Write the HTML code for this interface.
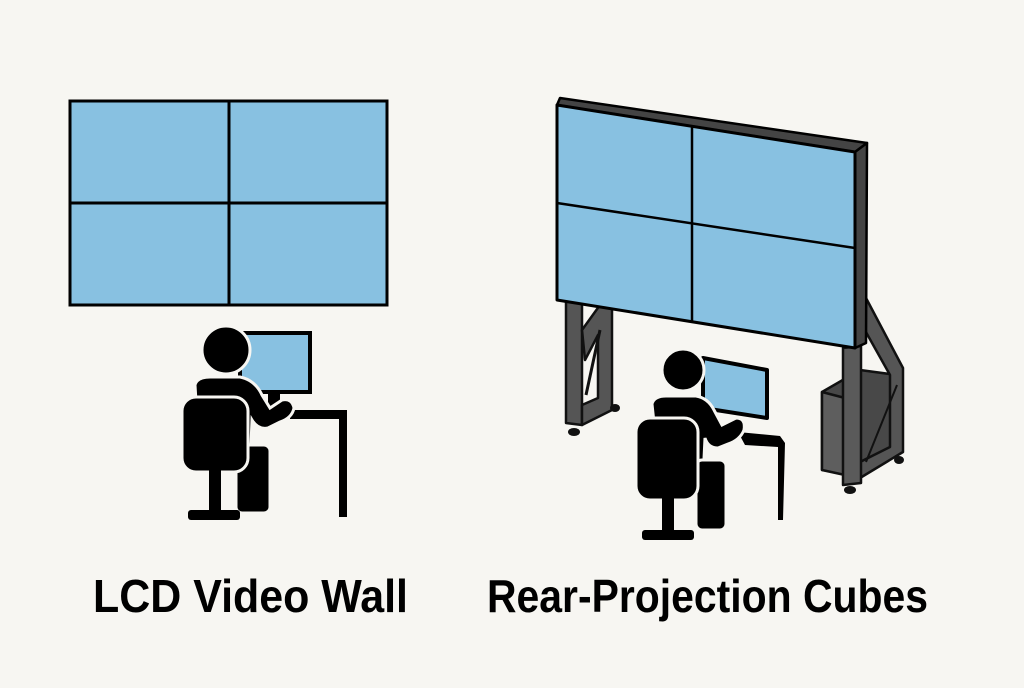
<!DOCTYPE html>
<html><head><style>html,body{margin:0;padding:0;background:#f7f6f2}</style></head>
<body>
<svg width="1024" height="683" viewBox="0 0 1024 683" xmlns="http://www.w3.org/2000/svg">
<rect width="1024" height="683" fill="#f7f6f2"/>
<!-- LEFT LCD wall -->
<rect x="70" y="101" width="317" height="204" fill="#88c1e1" stroke="#000" stroke-width="3"/>
<line x1="229" y1="101" x2="229" y2="305" stroke="#000" stroke-width="3"/>
<line x1="70" y1="203" x2="387" y2="203" stroke="#000" stroke-width="3"/>
<!-- left person -->
<g stroke="#f7f6f2" stroke-width="3">
<rect x="240" y="333" width="70" height="59" fill="#88c1e1" stroke="#000" stroke-width="4"/>
<rect x="268" y="392" width="12" height="14" fill="#000" stroke="none"/>
<path d="M290 410 H347 V517 H339 V419 H290 Z" fill="#000" stroke="none"/>
<circle cx="226" cy="350" r="24" fill="#000"/>
<path d="M195 385 Q197 377 210 377 H240 Q255 380 262 395 L270 408 L282 400 Q292 398 294 408 Q292 418 280 422 L268 428 Q258 430 252 420 L250 470 H200 Z" fill="#000"/>
<rect x="236" y="445" width="34" height="68" rx="6" fill="#000"/>
<rect x="182" y="397" width="66" height="75" rx="14" fill="#000"/>
<rect x="209" y="470" width="12" height="42" fill="#000" stroke="none"/>
<rect x="188" y="510" width="52" height="10" rx="3" fill="#000" stroke="none"/>
</g>
<!-- RIGHT rear projection -->
<!-- right legs and braces -->
<g fill="#555" stroke="#111" stroke-width="2.5" stroke-linejoin="round">
<path d="M566 298 L582 300 L582 425 L566 423 Z"/>
<path d="M582 330 L600 305 L612 308 L612 410 L582 425 L582 405 L598 398 L598 335 L585 360 Z"/>
<path d="M586 395 L600 330" fill="none" stroke-width="3"/>
<path d="M822 392 L860 370 L897 375 L897 450 L860 475 L822 470 Z" fill="#484848"/>
<path d="M822 392 L845 398 L845 475 L822 470 Z" fill="#5e5e5e"/>
<path d="M866 298 L903 368 L903 452 L860 478 L860 462 L890 447 L890 375 L862 325 Z"/>
<path d="M866 462 L897 385" fill="none" stroke-width="2"/>
<path d="M843 348 L861 346 L861 483 L843 485 Z" fill="#5a5a5a"/>
</g>
<g fill="#111">
<ellipse cx="574" cy="432" rx="6" ry="4"/><ellipse cx="615" cy="408" rx="5" ry="4"/>
<ellipse cx="850" cy="490" rx="6" ry="4"/><ellipse cx="899" cy="460" rx="5" ry="4"/>
</g>
<!-- screen -->
<path d="M557 105 L560 98 L867 143 L855 152 Z" fill="#444" stroke="#000" stroke-width="2.5" stroke-linejoin="round"/>
<path d="M855 152 L867 143 L866 343 L855 348 Z" fill="#444" stroke="#000" stroke-width="2.5" stroke-linejoin="round"/>
<path d="M557 105 L855 152 L855 348 L557 300 Z" fill="#88c1e1" stroke="#000" stroke-width="3" stroke-linejoin="round"/>
<line x1="692" y1="126" x2="692" y2="322" stroke="#000" stroke-width="2.5"/>
<line x1="557" y1="203" x2="855" y2="248" stroke="#000" stroke-width="2.5"/>
<!-- right person -->
<g stroke="#f7f6f2" stroke-width="3">
<path d="M703 358 L767 370 L767 418 L703 408 Z" fill="#88c1e1" stroke="#000" stroke-width="4" stroke-linejoin="round"/>
<path d="M738 432 L780 436 L785 443 L783 520 L778 520 L778 447 L745 445 Z" fill="#000" stroke="none"/>
<circle cx="683" cy="370" r="21" fill="#000"/>
<path d="M652 404 Q654 396 666 396 H696 Q708 398 714 410 L722 425 L736 418 Q746 418 744 430 Q740 440 728 444 L718 448 Q708 448 705 438 L703 480 H660 Z" fill="#000"/>
<rect x="696" y="460" width="30" height="70" rx="6" fill="#000"/>
<rect x="636" y="418" width="62" height="82" rx="14" fill="#000"/>
<rect x="662" y="498" width="12" height="40" fill="#000" stroke="none"/>
<rect x="642" y="530" width="52" height="10" rx="3" fill="#000" stroke="none"/>
</g>
<!-- labels -->
<text x="93" y="612" font-family="Liberation Sans, sans-serif" font-weight="bold" font-size="46" textLength="315" lengthAdjust="spacingAndGlyphs" fill="#000">LCD Video Wall</text>
<text x="487" y="612" font-family="Liberation Sans, sans-serif" font-weight="bold" font-size="46" textLength="441" lengthAdjust="spacingAndGlyphs" fill="#000">Rear-Projection Cubes</text>
</svg>
</body></html>
